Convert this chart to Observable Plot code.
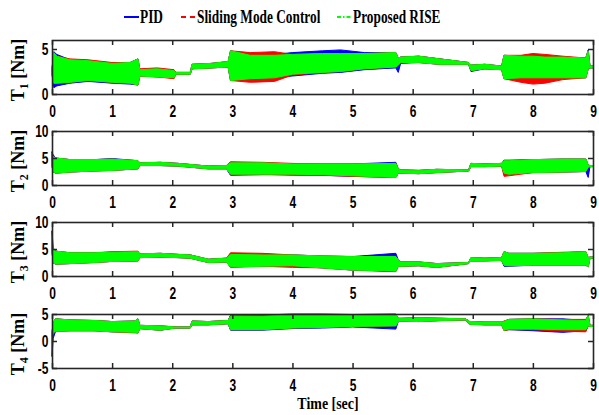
<!DOCTYPE html>
<html><head><meta charset="utf-8">
<script src="https://cdn.jsdelivr.net/npm/d3@7"></script>
<script src="https://cdn.jsdelivr.net/npm/@observablehq/plot@0.6"></script>
<style>
body{margin:0;background:#fff;}
#wrap{position:relative;width:599px;height:415px;overflow:hidden;background:#fff;}
.pl{position:absolute;left:0;}
.serif{font-family:"Liberation Serif","Times New Roman",serif;font-weight:bold;color:#000;}
.lg{position:absolute;top:6px;font-size:18px;line-height:22px;transform:scaleX(0.74);transform-origin:left center;white-space:nowrap;}
.ylab{position:absolute;font-size:18px;white-space:nowrap;transform:translate(-50%,-50%) rotate(-90deg);}
.ylab sub{font-size:12px;}
</style></head>
<body><div id="wrap"></div>
<script>
// ---- shared ----
const seriesNames = ["PID", "Sliding Mode Control", "Proposed RISE"];
const seriesColors = ["#0000ff", "#ff0000", "#00ff00"];
const xTicks = [0,1,2,3,4,5,6,7,8,9];
const panelLabels = ["1","2","3","4"];
const yDomains = [[0,6],[0,10],[0,10],[-5,5]];
const yTickSets = [[0,5],[0,5,10],[0,5,10],[-5,0,5]];

// ---- panel 1 (T1) envelope knots: time, lower/upper bound of each signal ----
const t1 = [0,0.03,0.08,0.3,0.6,1.0,1.3,1.43,1.46,1.75,2.03,2.06,2.3,2.33,2.65,2.93,2.97,3.3,3.7,4.0,4.5,4.8,5.2,5.72,5.76,5.8,6.1,6.45,6.93,6.97,7.2,7.48,7.52,7.8,8.0,8.2,8.5,8.88,8.92,8.95,9.0];
const pid1Lo = [2.2,0.7,0.9,1.2,1.4,1.2,1.1,1.0,2.0,1.9,1.8,2.2,2.2,2.8,2.9,3.0,1.5,1.7,1.8,2.0,2.3,2.4,2.7,2.9,2.4,3.4,3.5,3.3,3.3,2.5,2.8,2.7,1.7,1.8,1.8,1.8,1.8,1.8,2.8,2.9,2.9];
const pid1Hi = [2.8,4.7,4.4,3.8,3.7,3.4,3.5,3.9,2.7,2.8,2.6,2.4,2.4,3.3,3.4,3.6,4.8,4.3,4.4,4.6,4.8,4.9,4.6,4.6,4.0,4.1,4.2,3.9,3.5,3.2,3.3,3.1,4.3,4.2,4.2,4.1,4.1,4.0,4.9,3.1,3.1];
const smc1Lo = [2.2,1.2,1.2,1.3,1.5,1.3,1.2,1.0,2.0,1.9,1.7,2.2,2.2,2.8,2.9,3.0,1.5,1.3,1.4,2.1,2.4,2.5,2.8,3.0,3.2,3.5,3.5,3.3,3.3,2.6,2.8,2.7,1.7,1.3,1.1,1.2,1.6,1.8,2.8,2.9,2.9];
const smc1Hi = [2.8,4.6,4.2,3.9,3.8,3.5,3.5,3.9,2.8,2.9,2.7,2.4,2.4,3.3,3.4,3.6,4.8,4.6,4.7,4.4,4.5,4.5,4.5,4.6,4.0,4.1,4.2,3.9,3.5,3.2,3.3,3.1,4.3,4.3,4.5,4.4,4.2,4.0,4.8,3.1,3.1];
const rise1Lo = [2.2,1.2,1.2,1.3,1.5,1.3,1.2,1.0,2.0,1.9,1.8,2.2,2.2,2.8,2.9,3.0,1.5,1.7,1.8,2.2,2.4,2.5,2.8,3.0,3.2,3.5,3.5,3.3,3.3,2.6,2.8,2.7,1.7,1.8,1.8,1.8,1.8,1.8,2.8,2.9,2.9];
const rise1Hi = [2.8,4.6,4.2,3.8,3.7,3.4,3.5,3.9,2.7,2.8,2.6,2.4,2.4,3.3,3.4,3.6,4.8,4.3,4.3,4.4,4.5,4.5,4.5,4.6,4.0,4.1,4.2,3.9,3.5,3.2,3.3,3.1,4.3,4.2,4.2,4.1,4.1,4.0,4.8,3.1,3.1];

// ---- panel 2 (T2) ----
const t2 = [0,0.02,0.06,0.3,0.7,1.0,1.43,1.46,1.8,2.1,2.3,2.6,2.9,2.97,3.5,4.0,4.5,5.0,5.72,5.76,5.8,6.1,6.4,6.93,6.97,7.2,7.48,7.52,7.6,8.0,8.5,8.88,8.92,8.95,9.0];
const pid2Lo = [3.5,2.4,2.2,2.4,2.6,2.7,3.0,3.6,3.6,3.5,3.3,3.0,3.0,1.8,1.9,1.9,1.8,1.6,1.4,2.2,2.2,2.1,2.3,2.6,3.4,3.4,3.5,2.1,2.0,2.3,2.4,2.5,1.4,3.4,3.4];
const pid2Hi = [6.1,5.6,5.0,4.7,4.7,4.9,4.5,4.1,4.2,4.0,3.8,3.5,3.6,4.0,4.0,3.9,3.9,3.9,4.2,3.0,2.8,2.7,2.9,2.8,4.0,3.9,4.0,4.6,4.6,4.7,4.8,4.8,3.7,3.6,3.6];
const smc2Lo = [3.5,2.5,2.2,2.4,2.6,2.7,3.0,3.6,3.6,3.5,3.3,3.0,3.0,2.0,2.0,1.8,1.8,1.6,1.4,2.2,2.2,2.1,2.3,2.6,3.4,3.4,3.5,1.6,1.7,2.3,2.4,2.5,3.3,3.4,3.4];
const smc2Hi = [4.5,5.3,5.0,4.7,4.7,4.8,4.5,4.1,4.2,4.0,3.8,3.5,3.6,4.3,4.2,4.0,3.9,3.9,4.0,3.0,2.8,2.7,2.9,2.8,4.0,3.9,4.0,4.4,4.5,4.7,4.8,4.8,3.7,3.6,3.6];
const rise2Lo = [3.5,2.5,2.2,2.4,2.6,2.7,3.0,3.6,3.6,3.5,3.3,3.0,3.0,2.0,2.0,2.0,1.9,1.7,1.4,2.2,2.2,2.1,2.3,2.6,3.4,3.4,3.5,2.2,2.0,2.3,2.4,2.5,3.3,3.4,3.4];
const rise2Hi = [4.5,5.3,5.0,4.7,4.7,4.8,4.5,4.1,4.2,4.0,3.8,3.5,3.6,4.1,4.1,3.9,3.9,3.9,4.0,3.0,2.8,2.7,2.9,2.8,4.0,3.9,4.0,4.5,4.5,4.7,4.8,4.8,3.7,3.6,3.6];

// ---- panel 3 (T3) ----
const t3 = [0,0.02,0.06,0.3,0.7,1.0,1.43,1.46,1.8,2.1,2.3,2.6,2.9,2.97,3.5,4.0,4.5,5.0,5.72,5.76,5.8,6.1,6.4,6.93,6.97,7.2,7.48,7.52,7.6,8.0,8.5,8.88,8.92,8.95,9.0];
const pid3Lo = [4.5,2.4,2.2,2.3,2.5,2.7,2.8,3.4,3.5,3.4,3.3,2.5,2.6,1.7,1.8,1.9,1.5,1.1,0.8,1.8,1.8,1.9,1.6,2.3,2.8,2.8,2.9,1.8,1.8,2.0,2.0,2.0,1.7,3.3,3.3];
const pid3Hi = [8.3,5.2,4.6,4.3,4.3,4.4,4.5,4.1,4.2,4.0,3.9,3.1,3.3,4.0,3.9,3.9,3.7,3.6,4.2,3.0,2.6,2.6,2.3,2.5,3.4,3.3,3.4,4.5,4.2,4.2,4.3,4.5,3.4,3.5,3.5];
const smc3Lo = [4.5,2.5,2.2,2.3,2.5,2.7,2.8,3.4,3.5,3.4,3.3,2.5,2.6,1.6,1.8,1.6,1.5,1.1,0.9,1.8,1.8,1.9,1.6,2.3,2.8,2.8,2.9,2.0,1.9,2.0,2.0,2.0,1.7,3.3,3.3];
const smc3Hi = [5.5,5.0,4.6,4.3,4.3,4.5,4.6,4.1,4.2,4.0,3.9,3.1,3.3,4.3,4.2,3.9,3.7,3.6,3.6,3.0,2.6,2.6,2.3,2.5,3.4,3.3,3.4,4.5,4.2,4.2,4.4,4.5,3.4,3.5,3.5];
const rise3Lo = [4.5,2.5,2.2,2.3,2.5,2.7,2.8,3.4,3.5,3.4,3.3,2.5,2.6,1.7,1.8,1.9,1.5,1.1,0.9,1.8,1.8,1.9,1.6,2.3,2.8,2.8,2.9,2.0,1.9,2.0,2.0,2.0,1.7,3.3,3.3];
const rise3Hi = [5.5,5.0,4.6,4.3,4.3,4.4,4.5,4.1,4.2,4.0,3.9,3.1,3.3,4.0,3.9,3.9,3.7,3.6,3.6,3.0,2.6,2.6,2.3,2.5,3.4,3.3,3.4,4.5,4.2,4.2,4.3,4.5,3.4,3.5,3.5];

// ---- panel 4 (T4) ----
const t4 = [0,0.02,0.06,0.3,0.7,1.0,1.38,1.43,1.46,1.8,2.05,2.3,2.33,2.6,2.93,2.97,3.5,4.0,4.5,5.0,5.72,5.76,5.8,6.1,6.5,6.88,6.95,7.2,7.48,7.52,7.6,8.0,8.5,8.88,8.92,8.95,9.0];
const pid4Lo = [-2.8,0.5,1.8,1.9,1.9,1.7,1.6,1.5,2.3,2.0,2.4,2.4,3.0,3.0,3.2,2.0,2.0,2.3,2.4,2.6,2.2,3.6,3.7,3.6,3.8,3.9,3.1,3.0,3.0,2.0,2.1,1.9,1.6,1.9,2.8,2.7,2.7];
const pid4Hi = [1.5,3.5,4.1,3.9,3.8,3.6,3.7,4.1,2.9,2.8,2.6,2.6,3.7,3.6,3.8,4.8,4.8,5.0,5.0,4.9,5.0,4.2,4.2,4.3,4.2,4.1,3.6,3.5,3.5,3.6,4.0,4.1,4.1,3.8,4.7,2.9,2.9];
const smc4Lo = [0.5,1.5,1.8,1.9,1.9,1.7,1.5,1.5,2.3,2.0,2.4,2.4,3.0,3.0,3.2,2.1,2.1,2.4,2.5,2.7,2.8,3.6,3.7,3.6,3.8,3.9,3.1,3.0,3.0,1.9,2.1,2.1,1.8,1.7,2.8,2.7,2.7];
const smc4Hi = [1.5,3.5,4.1,3.9,3.8,3.6,3.7,4.1,2.9,2.8,2.6,2.6,3.7,3.6,3.8,4.7,4.6,4.8,4.8,4.8,4.9,4.2,4.2,4.3,4.2,4.1,3.6,3.5,3.5,3.7,4.0,4.1,4.0,4.0,4.7,2.9,2.9];
const rise4Lo = [0.5,1.5,1.8,1.9,1.9,1.7,1.6,1.5,2.3,2.0,2.4,2.4,3.0,3.0,3.2,2.1,2.1,2.4,2.5,2.7,2.8,3.6,3.7,3.6,3.8,3.9,3.1,3.0,3.0,2.0,2.2,2.2,2.1,2.1,2.8,2.7,2.7];
const rise4Hi = [1.5,3.5,4.1,3.9,3.8,3.6,3.7,4.1,2.9,2.8,2.6,2.6,3.7,3.6,3.8,4.6,4.6,4.8,4.8,4.8,4.9,4.2,4.2,4.3,4.2,4.1,3.6,3.5,3.5,3.6,4.0,4.1,3.9,3.8,4.7,2.9,2.9];

const panels = [
  {t: t1, s: [[pid1Lo, pid1Hi], [smc1Lo, smc1Hi], [rise1Lo, rise1Hi]]},
  {t: t2, s: [[pid2Lo, pid2Hi], [smc2Lo, smc2Hi], [rise2Lo, rise2Hi]]},
  {t: t3, s: [[pid3Lo, pid3Hi], [smc3Lo, smc3Hi], [rise3Lo, rise3Hi]]},
  {t: t4, s: [[pid4Lo, pid4Hi], [smc4Lo, smc4Hi], [rise4Lo, rise4Hi]]}
];

// ---- layout ----
const W = 599, mL = 52, mR = 6, mT = 9, inner = 54, mB = 28;
const boxTops = [40, 131, 222, 314];
const wrap = document.getElementById("wrap");
const axisCol = "#262626";

panels.forEach((p, pi) => {
  const dom = yDomains[pi];
  const span = dom[1] - dom[0];
  const xIn = 9 * 5 / (W - mL - mR);       // 5px inward tick
  const yIn = span * 5 / inner;
  const marks = [];
  p.s.forEach((pair, k) => {
    const rows = p.t.map((t, i) => ({t, lo: pair[0][i], hi: pair[1][i]}));
    marks.push(Plot.areaY(rows, {x: "t", y1: "lo", y2: "hi", fill: seriesColors[k], stroke: seriesColors[k], strokeWidth: 1}));
  });
  marks.push(Plot.frame({stroke: axisCol, strokeWidth: 1.6}));
  marks.push(Plot.ruleX(xTicks, {x: d => d, y1: dom[0], y2: dom[0] + yIn, stroke: axisCol, strokeWidth: 1.5}));
  marks.push(Plot.ruleX(xTicks, {x: d => d, y1: dom[1] - yIn, y2: dom[1], stroke: axisCol, strokeWidth: 1.5}));
  marks.push(Plot.ruleY(yTickSets[pi], {y: d => d, x1: 0, x2: xIn, stroke: axisCol, strokeWidth: 1.5}));
  marks.push(Plot.ruleY(yTickSets[pi], {y: d => d, x1: 9 - xIn, x2: 9, stroke: axisCol, strokeWidth: 1.5}));
  marks.push(Plot.axisX({ticks: xTicks, tickSize: 0, tickPadding: 11, label: null, tickFormat: d => d}));
  marks.push(Plot.axisY({ticks: yTickSets[pi], tickSize: 0, tickPadding: 4, label: null, tickFormat: d => d}));
  const svg = Plot.plot({
    width: W, height: mT + inner + mB,
    marginLeft: mL, marginRight: mR, marginTop: mT, marginBottom: mB,
    x: {domain: [0, 9]},
    y: {domain: dom},
    style: {fontFamily: "'Liberation Sans', Arial, sans-serif", fontSize: "16px", fontWeight: "bold", color: "#000", background: "transparent", overflow: "visible"},
    marks
  });
  // condense tick-label glyphs horizontally, like the reference
  svg.querySelectorAll("g[aria-label$='tick label'] text").forEach(el => {
    const tr = el.getAttribute("transform");
    if (tr) el.setAttribute("transform", tr + " scale(0.75,1)");
  });
  svg.classList.add("pl");
  svg.style.top = (boxTops[pi] - mT) + "px";
  wrap.appendChild(svg);

  const yl = document.createElement("div");
  yl.className = "ylab serif";
  yl.style.left = "20px";
  yl.style.top = (boxTops[pi] + inner / 2 + 3) + "px";
  yl.innerHTML = "T<sub>" + panelLabels[pi] + "</sub> [Nm]";
  wrap.appendChild(yl);
});

// ---- legend ----
const lgX = [124, 181, 337];
const lgDash = [null, "5,4", "4,2,1.5,2"];
seriesNames.forEach((n, k) => {
  const ns = "http://www.w3.org/2000/svg";
  const s = document.createElementNS(ns, "svg");
  s.setAttribute("width", 16); s.setAttribute("height", 6);
  s.style.position = "absolute"; s.style.left = lgX[k] + "px"; s.style.top = "14px";
  const l = document.createElementNS(ns, "line");
  l.setAttribute("x1", 0); l.setAttribute("x2", 15); l.setAttribute("y1", 3); l.setAttribute("y2", 3);
  l.setAttribute("stroke", seriesColors[k]); l.setAttribute("stroke-width", 2);
  if (lgDash[k]) l.setAttribute("stroke-dasharray", lgDash[k]);
  s.appendChild(l);
  wrap.appendChild(s);
  const d = document.createElement("div");
  d.className = "lg serif";
  d.style.left = (lgX[k] + 16) + "px";
  d.textContent = n;
  wrap.appendChild(d);
});

// ---- x label ----
const xl = document.createElement("div");
xl.className = "serif";
xl.style.cssText = "position:absolute;top:395px;left:328px;font-size:17px;line-height:18px;white-space:nowrap;transform:translateX(-50%) scaleX(0.82);";
xl.textContent = "Time [sec]";
wrap.appendChild(xl);
</script></body></html>
